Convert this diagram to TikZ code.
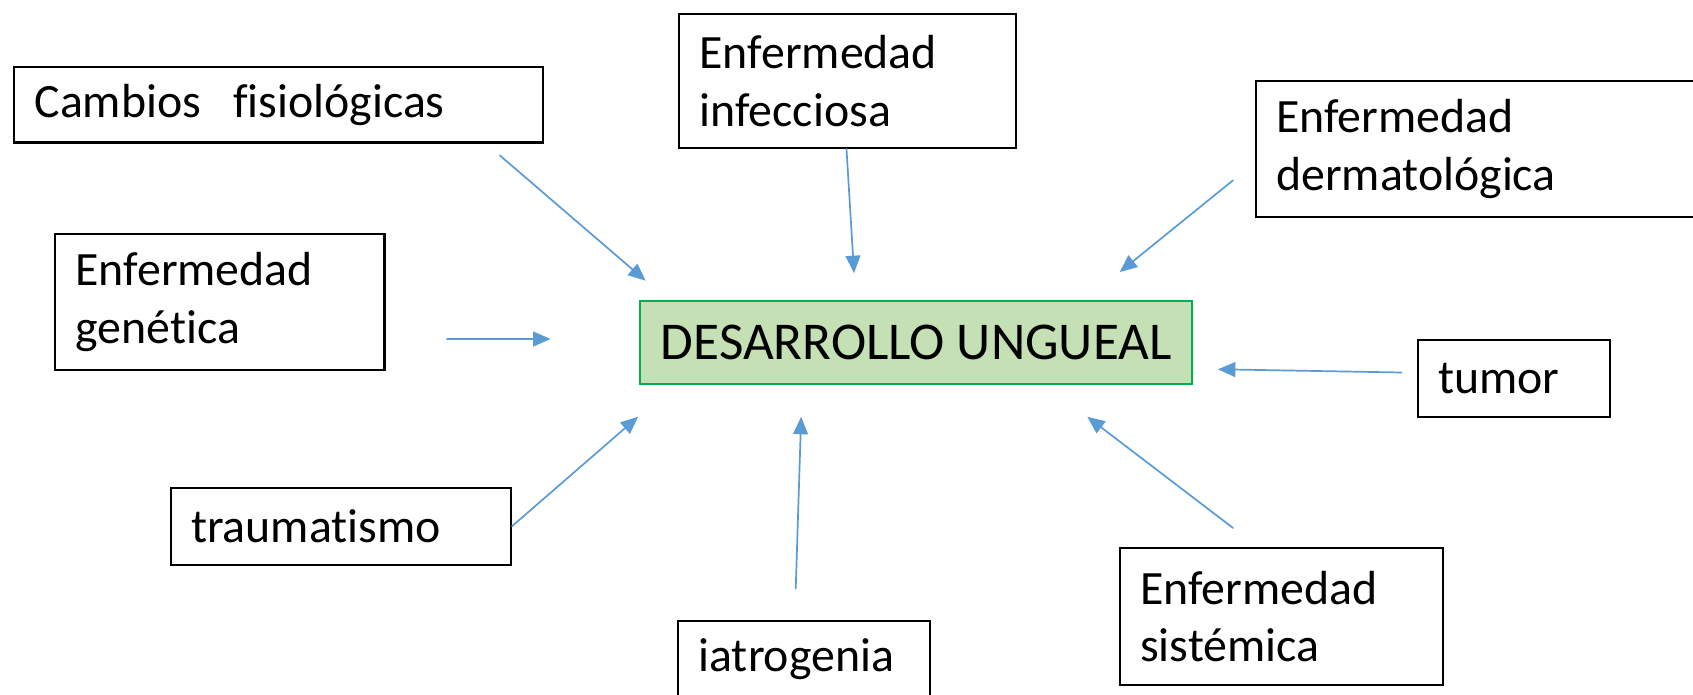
\documentclass[tikz,border=0pt]{standalone}
\usepackage{fontspec}
\setmainfont{Carlito}[Ligatures=NoCommon]
\usepackage{tkz-euclide}
\usetikzlibrary{arrows.meta}
\definecolor{flecha}{HTML}{5B9BD5}
\definecolor{verdefondo}{HTML}{C5E0B4}
\definecolor{verdeborde}{HTML}{00B050}
\tikzset{
  caja/.style={draw, line width=0.55pt, anchor=north west, align=left,
    inner xsep=0.19cm, inner ysep=0pt, font=\fontsize{12.6}{15.2}\selectfont},
  centro/.style={draw=verdeborde, fill=verdefondo, line width=0.55pt, anchor=north west,
    inner sep=0pt, font=\fontsize{14}{16.5}\selectfont},
  flechita/.style={draw=flecha, line width=0.45pt, -{Triangle[length=4.6pt,width=3.9pt]}}
}

\begin{document}
\begin{tikzpicture}[x=0.01cm,y=-0.01cm]
                    \useasboundingbox (0,0) rectangle (1568,643);

                    \node[centro, minimum width=5.11cm, minimum height=0.77cm] (desarrollo) at (592,278) {DESARROLLO UNGUEAL};

                    \node[caja, text width=4.52cm, minimum height=0.70cm] (cambios) at (12,61) {Cambios\ \ fisiológicas};
                    \node[caja, text width=2.74cm, minimum height=1.24cm] (infecciosa) at (628,12) {Enfermedad\\infecciosa};
                    \node[caja, text width=3.82cm, minimum height=1.26cm] (dermato) at (1162,74) {Enfermedad\\dermatológica};
                    \node[caja, text width=2.67cm, minimum height=1.26cm] (genetica) at (50,216) {Enfermedad\\genética};
                    \node[caja, text width=1.40cm, minimum height=0.71cm] (tumor) at (1312,314) {tumor};
                    \node[caja, text width=2.77cm, minimum height=0.71cm] (trauma) at (157,451) {traumatismo};
                    \node[caja, text width=1.95cm, minimum height=0.71cm] (iatro) at (627,574) {iatrogenia};
                    \node[caja, text width=2.61cm, minimum height=1.26cm] (sistemica) at (1036,507) {Enfermedad\\sistémica};

                    % inicio y punta de cada flecha
                    \tkzDefPoint(463,144){A1}   \tkzDefPoint(598,260){B1}
                    \tkzDefPoint(784,138){A2}   \tkzDefPoint(791,253){B2}
                    \tkzDefPoint(1142,167){A3}  \tkzDefPoint(1037,252){B3}
                    \tkzDefPoint(414,314){A4}   \tkzDefPoint(510,314){B4}
                    \coordinate (A5) at (trauma.east);
                    \tkzDefPoint(591,386){B5}
                    \tkzDefPoint(737,545){A6}   \tkzDefPoint(742,386){B6}
                    \tkzDefPoint(1142,489){A7}  \tkzDefPoint(1007,386){B7}
                    \tkzDefPoint(1298,345){A8}  \tkzDefPoint(1128,342){B8}

                    \tkzDrawSegments[flechita](A1,B1 A2,B2 A3,B3 A4,B4 A5,B5 A6,B6 A7,B7 A8,B8)
\end{tikzpicture}
\end{document}
